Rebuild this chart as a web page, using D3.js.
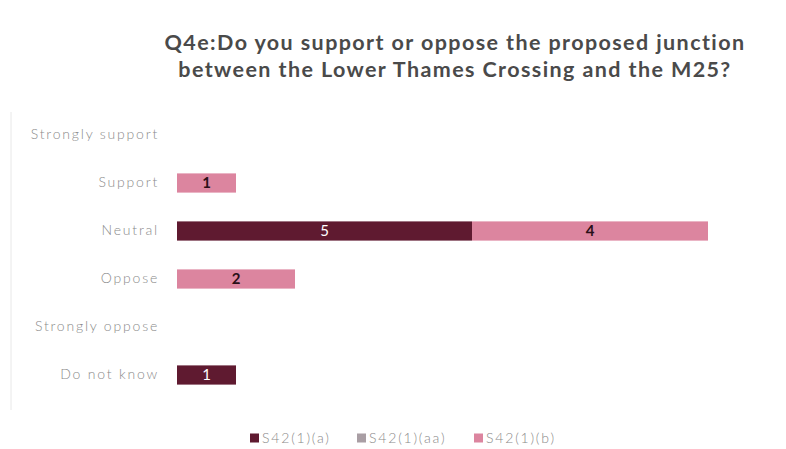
<!DOCTYPE html>
<html>
<head>
<meta charset="utf-8">
<script src="https://cdn.jsdelivr.net/npm/d3@7"></script>
<style>
  html, body { margin: 0; padding: 0; background: #fff; }
  svg { display: block; }
</style>
</head>
<body>
<svg id="chart" width="786" height="449"></svg>
<script>
// Survey responses per category, one array per series
const categories = ["Strongly support", "Support", "Neutral", "Oppose", "Strongly oppose", "Do not know"];
const seriesNames = ["S42(1)(a)", "S42(1)(aa)", "S42(1)(b)"];
const seriesA  = [0, 0, 5, 0, 0, 1];
const seriesAA = [0, 0, 0, 0, 0, 0];
const seriesB  = [0, 1, 4, 2, 0, 0];
const seriesColors = ["#5f1a30", "#a99ea4", "#dc859f"];
const labelColors = ["#ffffff", "#222222", "#2a1018"];

const titleLines = [
  "Q4e:Do you support or oppose the proposed junction",
  "between the Lower Thames Crossing and the M25?"
];

const svg = d3.select("#chart");

// chart frame
svg.append("line")
  .attr("x1", 11).attr("x2", 11).attr("y1", 112).attr("y2", 410)
  .attr("stroke", "#e8e8e8").attr("stroke-width", 1);

// title
svg.append("g").selectAll("text").data(titleLines).join("text")
  .attr("x", 455).attr("y", (d, i) => 50 + i * 27)
  .attr("text-anchor", "middle")
  .attr("font-family", "Lato, 'Open Sans', sans-serif")
  .attr("font-weight", "bold")
  .attr("font-size", 21.5)
  .attr("letter-spacing", 1.4)
  .attr("fill", "#4a4a4a")
  .text(d => d);

const rows = categories.map((c, i) => ({ cat: c, v: [seriesA[i], seriesAA[i], seriesB[i]] }));
const stacked = d3.stack().keys([0, 1, 2]).value((d, k) => d.v[k])(rows);

const x = d3.scaleLinear().domain([0, 9]).range([177, 708]);
const y = d3.scaleBand().domain(categories).range([111, 399]).paddingInner(0.6).paddingOuter(0.3);

// category axis
const yAxis = svg.append("g")
  .attr("transform", `translate(${x(0)},0)`)
  .call(d3.axisLeft(y).tickSize(0).tickPadding(18));
yAxis.select(".domain").remove();
yAxis.selectAll("text")
  .attr("font-family", "Lato, sans-serif")
  .attr("font-weight", 300)
  .attr("font-size", 14)
  .attr("letter-spacing", 1.8)
  .attr("fill", "#8a8a8a");

// stacked bars
const layers = svg.append("g").selectAll("g").data(stacked).join("g")
  .attr("fill", d => seriesColors[d.key]);
layers.selectAll("rect").data(d => d.filter(p => p[1] > p[0])).join("rect")
  .attr("x", d => x(d[0]))
  .attr("width", d => x(d[1]) - x(d[0]))
  .attr("y", d => y(d.data.cat))
  .attr("height", y.bandwidth());

// value labels
svg.append("g").selectAll("g").data(stacked).join("g")
  .attr("fill", d => labelColors[d.key])
  .selectAll("text").data(d => d.filter(p => p[1] > p[0]).map(p => ({ p, key: d.key }))).join("text")
  .attr("x", d => (x(d.p[0]) + x(d.p[1])) / 2)
  .attr("y", d => y(d.p.data.cat) + y.bandwidth() / 2)
  .attr("dy", "0.36em")
  .attr("text-anchor", "middle")
  .attr("font-family", "Lato, sans-serif")
  .attr("font-weight", d => d.key === 0 ? "normal" : "bold")
  .attr("font-size", 15)
  .text(d => d.p[1] - d.p[0]);

// legend
const legendX = [250, 357, 474];
const legend = svg.append("g").selectAll("g").data(seriesNames).join("g")
  .attr("transform", (d, i) => `translate(${legendX[i]},438)`);
legend.append("rect")
  .attr("x", 0).attr("y", -4.5).attr("width", 9).attr("height", 9)
  .attr("fill", (d, i) => seriesColors[i]);
legend.append("text")
  .attr("x", 12).attr("dy", "0.35em")
  .attr("font-family", "Lato, sans-serif")
  .attr("font-weight", 300)
  .attr("font-size", 14)
  .attr("letter-spacing", 1.8)
  .attr("fill", "#8a8a8a")
  .text(d => d);
</script>
</body>
</html>
